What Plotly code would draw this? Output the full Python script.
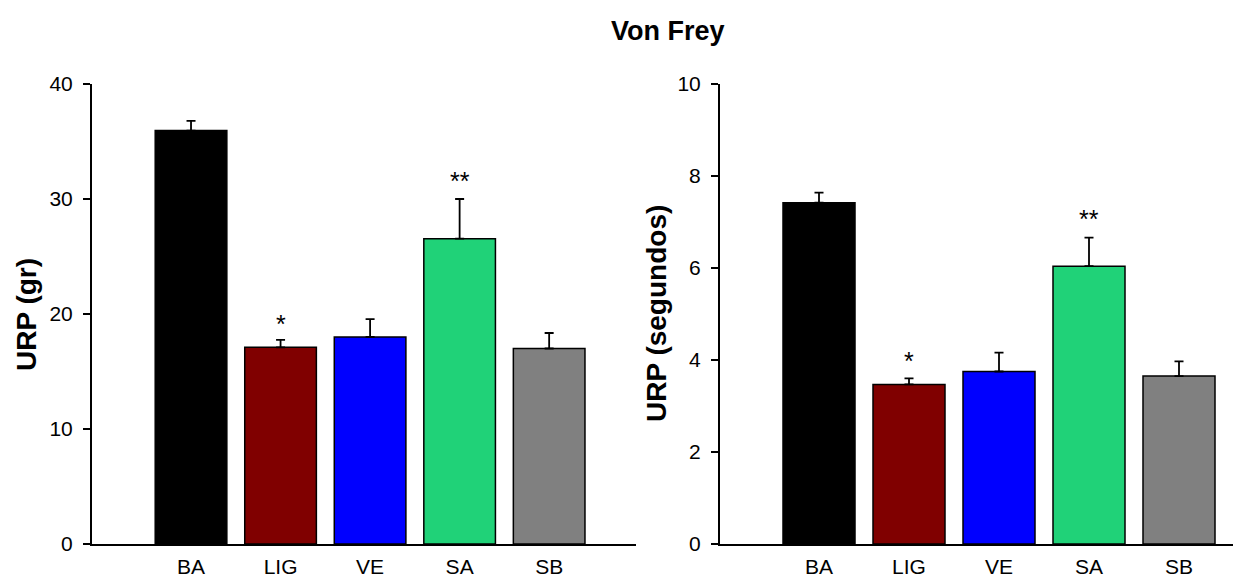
import plotly.graph_objects as go

categories = ["BA", "LIG", "VE", "SA", "SB"]
colors = ["#000000", "#800000", "#0000FF", "#20D278", "#808080"]

grams_mean = [35.95, 17.1, 18.0, 26.55, 17.0]
grams_err = [0.85, 0.65, 1.55, 3.45, 1.35]

seconds_mean = [7.42, 3.47, 3.75, 6.04, 3.65]
seconds_err = [0.22, 0.13, 0.41, 0.62, 0.32]

sig_labels = ["", "*", "", "**", ""]
grams_sig_y = [None, 19.6, None, 32.0, None]
seconds_sig_y = [None, 4.08, None, 7.18, None]

FONT = "Liberation Sans, Arial, sans-serif"
W, H = 1233, 582

fig = go.Figure()

fig.add_trace(go.Bar(
    x=categories, y=grams_mean, width=0.8,
    marker=dict(color=colors, line=dict(color="black", width=1.5)),
    error_y=dict(type="data", array=grams_err, arrayminus=[0] * 5, symmetric=False,
                 color="black", thickness=1.8, width=4.5),
    xaxis="x", yaxis="y", showlegend=False,
))
fig.add_trace(go.Bar(
    x=categories, y=seconds_mean, width=0.8,
    marker=dict(color=colors, line=dict(color="black", width=1.5)),
    error_y=dict(type="data", array=seconds_err, arrayminus=[0] * 5, symmetric=False,
                 color="black", thickness=1.8, width=4.5),
    xaxis="x2", yaxis="y2", showlegend=False,
))

annotations = []
for cat, lab, yv in zip(categories, sig_labels, grams_sig_y):
    if lab:
        annotations.append(dict(x=cat, y=yv, xref="x", yref="y", text=lab, showarrow=False,
                                font=dict(family=FONT, size=25, color="black"),
                                yanchor="middle", yshift=-5))
for cat, lab, yv in zip(categories, sig_labels, seconds_sig_y):
    if lab:
        annotations.append(dict(x=cat, y=yv, xref="x2", yref="y2", text=lab, showarrow=False,
                                font=dict(family=FONT, size=25, color="black"),
                                yanchor="middle", yshift=-5))

annotations.append(dict(x=668 / W, y=1 - 31 / H, xref="paper", yref="paper", text="<b>Von Frey</b>",
                        showarrow=False, font=dict(family=FONT, size=27, color="black"),
                        xanchor="center", yanchor="middle"))
annotations.append(dict(x=26 / W, y=1 - 315 / H, xref="paper", yref="paper", text="<b>URP (gr)</b>",
                        showarrow=False, textangle=-90, font=dict(family=FONT, size=28, color="black"),
                        xanchor="center", yanchor="middle"))
annotations.append(dict(x=656 / W, y=1 - 314 / H, xref="paper", yref="paper", text="<b>URP (segundos)</b>",
                        showarrow=False, textangle=-90, font=dict(family=FONT, size=28, color="black"),
                        xanchor="center", yanchor="middle"))

ydom = [(H - 544) / H, (H - 84) / H]
common_x = dict(showline=True, linecolor="black", linewidth=2, showgrid=False, zeroline=False,
                ticks="outside", ticklen=3, tickcolor="rgba(0,0,0,0)", automargin=False,
                tickfont=dict(family=FONT, size=21, color="black"))
common_y = dict(showline=True, linecolor="black", linewidth=2, showgrid=False, zeroline=False,
                ticks="outside", ticklen=7, tickwidth=1.5, tickcolor="black", automargin=False,
                tickfont=dict(family=FONT, size=21, color="black"), ticklabelstandoff=6)

fig.update_layout(
    width=W, height=H,
    margin=dict(l=0, r=0, t=0, b=0, autoexpand=False),
    paper_bgcolor="white", plot_bgcolor="white",
    xaxis=dict(common_x, domain=[92 / W, 636 / W], range=[-1.106, 4.97], anchor="y"),
    yaxis=dict(common_y, domain=ydom, range=[0, 40], tickvals=[0, 10, 20, 30, 40], anchor="x"),
    xaxis2=dict(common_x, domain=[720 / W, 1.0], range=[-1.1, 4.6], anchor="y2"),
    yaxis2=dict(common_y, domain=ydom, range=[0, 10], tickvals=[0, 2, 4, 6, 8, 10], anchor="x2"),
    annotations=annotations,
    bargap=0.2,
)

fig.write_html("out.html", config={"displayModeBar": False},
               post_script="document.body.style.margin='0';document.body.style.overflow='hidden';")
